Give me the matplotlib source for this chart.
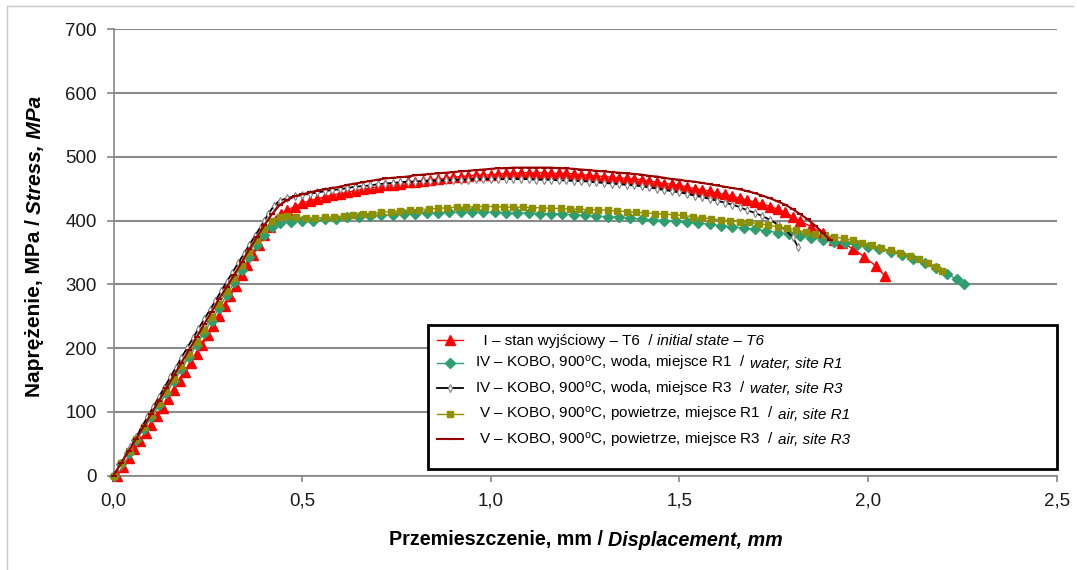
import matplotlib
matplotlib.use('Agg')
import matplotlib.pyplot as plt
from matplotlib.patches import Rectangle
from matplotlib.lines import Line2D

# stress-displacement curves (mm, MPa)
red_x = [0.010, 0.025, 0.040, 0.055, 0.070, 0.085, 0.100, 0.115, 0.130, 0.145,
         0.160, 0.175, 0.190, 0.205, 0.220, 0.235, 0.250, 0.265, 0.280, 0.295,
         0.310, 0.325, 0.340, 0.355, 0.370, 0.385, 0.400, 0.415, 0.430, 0.445,
         0.460, 0.48, 0.50, 0.52, 0.54, 0.56, 0.58, 0.60, 0.62, 0.64,
         0.66, 0.68, 0.70, 0.72, 0.74, 0.76, 0.78, 0.80, 0.82, 0.84,
         0.86, 0.88, 0.90, 0.92, 0.94, 0.96, 0.98, 1.00, 1.02, 1.04,
         1.06, 1.08, 1.10, 1.12, 1.14, 1.16, 1.18, 1.20, 1.22, 1.24,
         1.26, 1.28, 1.30, 1.32, 1.34, 1.36, 1.38, 1.40, 1.42, 1.44,
         1.46, 1.48, 1.50, 1.52, 1.54, 1.56, 1.58, 1.60, 1.62, 1.64,
         1.66, 1.68, 1.70, 1.72, 1.74, 1.76, 1.78, 1.80, 1.82, 1.85,
         1.88, 1.91, 1.93, 1.96, 1.99, 2.02, 2.045]
red_y = [0, 14, 27, 41, 54, 67, 80, 93, 106, 120,
         134, 148, 162, 176, 190, 205, 220, 235, 251, 266,
         282, 298, 314, 330, 346, 362, 377, 390, 401, 410,
         416, 422, 427, 431, 434, 437, 440, 442, 444, 447,
         449, 451, 453, 455, 456, 458, 460, 461, 462, 464,
         465, 466, 468, 469, 470, 471, 471, 472, 473, 474,
         474, 475, 475, 475, 475, 474, 474, 474, 473, 472,
         471, 470, 469, 468, 467, 466, 465, 464, 462, 460,
         458, 457, 455, 453, 450, 448, 446, 443, 441, 438,
         435, 432, 429, 426, 422, 418, 413, 406, 399, 390,
         380, 369, 365, 356, 343, 329, 313]

green_x = [0.000, 0.020, 0.040, 0.060, 0.080, 0.100, 0.120, 0.140, 0.160, 0.180,
           0.200, 0.220, 0.240, 0.260, 0.280, 0.300, 0.320, 0.340, 0.360, 0.380,
           0.400, 0.420, 0.440, 0.47, 0.50, 0.53, 0.56, 0.59, 0.62, 0.65,
           0.68, 0.71, 0.74, 0.77, 0.80, 0.83, 0.86, 0.89, 0.92, 0.95,
           0.98, 1.01, 1.04, 1.07, 1.10, 1.13, 1.16, 1.19, 1.22, 1.25,
           1.28, 1.31, 1.34, 1.37, 1.40, 1.43, 1.46, 1.49, 1.52, 1.55,
           1.58, 1.61, 1.64, 1.67, 1.70, 1.73, 1.76, 1.79, 1.82, 1.85,
           1.88, 1.91, 1.94, 1.97, 2.00, 2.03, 2.06, 2.09, 2.12, 2.15,
           2.18, 2.21, 2.235, 2.255]
green_y = [0, 18, 36, 55, 73, 91, 110, 129, 148, 167,
           186, 205, 224, 243, 263, 283, 303, 323, 343, 362,
           378, 390, 396, 398, 399, 400, 402, 403, 405, 406,
           407, 408, 409, 410, 411, 412, 412, 413, 413, 413,
           413, 413, 412, 412, 412, 411, 411, 410, 409, 408,
           407, 406, 405, 404, 402, 401, 400, 399, 397, 396,
           394, 392, 390, 388, 386, 384, 381, 379, 376, 373,
           370, 367, 364, 361, 358, 355, 351, 346, 340, 334,
           326, 316, 308, 300]

black_x = [0.000, 0.015, 0.030, 0.045, 0.060, 0.075, 0.090, 0.105, 0.120, 0.135,
           0.150, 0.165, 0.180, 0.195, 0.210, 0.225, 0.240, 0.255, 0.270, 0.285,
           0.300, 0.315, 0.330, 0.345, 0.360, 0.375, 0.390, 0.400, 0.410, 0.425,
           0.44, 0.46, 0.48, 0.50, 0.52, 0.54, 0.56, 0.58, 0.60, 0.62,
           0.64, 0.66, 0.68, 0.70, 0.72, 0.74, 0.76, 0.78, 0.80, 0.82,
           0.84, 0.86, 0.88, 0.90, 0.92, 0.94, 0.96, 0.98, 1.00, 1.02,
           1.04, 1.06, 1.08, 1.10, 1.12, 1.14, 1.16, 1.18, 1.20, 1.22,
           1.24, 1.26, 1.28, 1.30, 1.32, 1.34, 1.36, 1.38, 1.40, 1.42,
           1.44, 1.46, 1.48, 1.50, 1.52, 1.54, 1.56, 1.58, 1.60, 1.62,
           1.64, 1.66, 1.68, 1.70, 1.72, 1.74, 1.76, 1.78, 1.80, 1.815]
black_y = [0, 14, 29, 44, 60, 76, 92, 107, 123, 138,
           154, 169, 185, 200, 215, 230, 245, 259, 274, 289,
           304, 318, 333, 347, 362, 376, 390, 400, 410, 423,
           431, 435, 438, 440, 442, 444, 446, 448, 449, 451,
           453, 454, 455, 457, 458, 459, 460, 461, 461, 462,
           462, 463, 463, 464, 464, 464, 465, 465, 465, 465,
           465, 465, 465, 465, 464, 464, 464, 463, 463, 462,
           462, 461, 460, 459, 458, 457, 456, 455, 454, 452,
           450, 448, 446, 444, 442, 439, 437, 434, 431, 428,
           425, 421, 416, 412, 407, 401, 394, 386, 374, 358]

olive_x = [0.000, 0.020, 0.040, 0.060, 0.080, 0.100, 0.120, 0.140, 0.160, 0.180,
           0.200, 0.220, 0.240, 0.260, 0.280, 0.300, 0.320, 0.340, 0.360, 0.380,
           0.400, 0.420, 0.440, 0.460, 0.485, 0.51, 0.535, 0.56, 0.585, 0.61,
           0.635, 0.66, 0.685, 0.71, 0.735, 0.76, 0.785, 0.81, 0.835, 0.86,
           0.885, 0.91, 0.935, 0.96, 0.985, 1.01, 1.035, 1.06, 1.085, 1.11,
           1.135, 1.16, 1.185, 1.21, 1.235, 1.26, 1.285, 1.31, 1.335, 1.36,
           1.385, 1.41, 1.435, 1.46, 1.485, 1.51, 1.535, 1.56, 1.585, 1.61,
           1.635, 1.66, 1.685, 1.71, 1.735, 1.76, 1.785, 1.81, 1.835, 1.86,
           1.885, 1.91, 1.935, 1.96, 1.985, 2.01, 2.035, 2.06, 2.085, 2.11,
           2.135, 2.16, 2.18, 2.195]
olive_y = [0, 19, 38, 57, 76, 95, 114, 133, 152, 171,
           190, 209, 229, 249, 269, 290, 310, 330, 350, 370,
           387, 399, 405, 407, 405, 404, 404, 405, 406, 407,
           408, 410, 411, 413, 414, 415, 416, 417, 418, 419,
           420, 421, 421, 422, 422, 422, 421, 421, 421, 420,
           420, 419, 419, 418, 418, 417, 417, 416, 415, 414,
           413, 412, 411, 410, 409, 408, 406, 404, 403, 401,
           400, 398, 397, 395, 393, 390, 388, 385, 382, 379,
           377, 374, 372, 369, 365, 361, 357, 353, 349, 345,
           340, 333, 327, 321]

brown_x = [0.000, 0.020, 0.040, 0.060, 0.080, 0.100, 0.120, 0.140, 0.160, 0.180,
           0.200, 0.220, 0.240, 0.260, 0.280, 0.300, 0.320, 0.340, 0.360, 0.380,
           0.400, 0.420, 0.440, 0.460, 0.480, 0.50, 0.52, 0.54, 0.56, 0.58,
           0.60, 0.62, 0.64, 0.66, 0.68, 0.70, 0.72, 0.74, 0.76, 0.78,
           0.80, 0.82, 0.84, 0.86, 0.88, 0.90, 0.92, 0.94, 0.96, 0.98,
           1.00, 1.02, 1.04, 1.06, 1.08, 1.10, 1.12, 1.14, 1.16, 1.18,
           1.20, 1.22, 1.24, 1.26, 1.28, 1.30, 1.32, 1.34, 1.36, 1.38,
           1.40, 1.42, 1.44, 1.46, 1.48, 1.50, 1.52, 1.54, 1.56, 1.58,
           1.60, 1.62, 1.64, 1.66, 1.68, 1.70, 1.72, 1.74, 1.76, 1.78,
           1.80, 1.82, 1.84, 1.86, 1.88, 1.90]
brown_y = [0, 19, 38, 58, 77, 97, 117, 137, 157, 177,
           197, 217, 237, 257, 277, 296, 315, 335, 355, 374,
           393, 410, 424, 432, 438, 441, 444, 447, 449, 451,
           453, 456, 458, 460, 462, 464, 466, 467, 468, 469,
           471, 472, 473, 474, 475, 476, 477, 478, 479, 480,
           481, 482, 482, 483, 483, 483, 483, 483, 483, 482,
           482, 481, 480, 479, 478, 477, 476, 475, 474, 473,
           472, 470, 469, 467, 465, 464, 462, 461, 459, 457,
           455, 453, 451, 449, 446, 443, 439, 435, 430, 425,
           418, 410, 402, 392, 381, 369]

xticks = [0.0, 0.5, 1.0, 1.5, 2.0, 2.5]
xtick_labels = ['0,0', '0,5', '1,0', '1,5', '2,0', '2,5']
yticks = [0, 100, 200, 300, 400, 500, 600, 700]

labels_pl = ['  I – stan wyjściowy – T6  /',
             'IV – KOBO, 900$^{\\mathrm{o}}$C, woda, miejsce R1  /',
             'IV – KOBO, 900$^{\\mathrm{o}}$C, woda, miejsce R3  /',
             ' V – KOBO, 900$^{\\mathrm{o}}$C, powietrze, miejsce R1  /',
             ' V – KOBO, 900$^{\\mathrm{o}}$C, powietrze, miejsce R3  /']
labels_en = ['initial state – T6', 'water, site R1', 'water, site R3',
             'air, site R1', 'air, site R3']

SANS = ['Liberation Sans', 'DejaVu Sans']
plt.rcParams['font.family'] = SANS
plt.rcParams['mathtext.fontset'] = 'custom'
plt.rcParams['mathtext.rm'] = 'Liberation Sans'
plt.rcParams['mathtext.it'] = 'Liberation Sans:italic'

W, H = 1077, 570
LEG_FS = 11

fig = plt.figure(figsize=(W / 100, H / 100), dpi=100)
ax = fig.add_axes([113.5 / W, 1 - 475.5 / H, (1056.7 - 113.5) / W, (475.5 - 29.3) / H])

# light frame of the chart area (top and left edges visible)
fig.add_artist(Line2D([7 / W, 7 / W], [0, 1 - 6 / H], color='#c8c8c8', lw=1))
fig.add_artist(Line2D([7 / W, 1073 / W], [1 - 6 / H, 1 - 6 / H], color='#c8c8c8', lw=1))

l1, = ax.plot(red_x, red_y, color='#ff0000', lw=1, marker='^', ms=6.5, clip_on=False, zorder=3)
l2, = ax.plot(green_x, green_y, color='#2f9e6f', lw=1, marker='D', ms=4.8, clip_on=False, zorder=3)
l3, = ax.plot(black_x, black_y, color='black', lw=1.3, marker='d', ms=4, mfc='white',
              mec='#808080', mew=0.8, clip_on=False, zorder=3)
l4, = ax.plot(olive_x, olive_y, color='#8f8f00', lw=1, marker='s', ms=4.2, clip_on=False, zorder=3)
l5, = ax.plot(brown_x, brown_y, color='#990000', lw=1.5, marker='_', ms=5, mew=1.5,
              clip_on=False, zorder=3)

ax.set_xlim(0, 2.5)
ax.set_ylim(0, 700)
ax.set_xticks(xticks)
ax.set_xticklabels(xtick_labels)
ax.set_yticks(yticks)
for s in ['top', 'right']:
    ax.spines[s].set_visible(False)
for s in ['left', 'bottom']:
    ax.spines[s].set_color('#868686')
    ax.spines[s].set_linewidth(1.2)
ax.yaxis.grid(True, color='#8a8a8a', lw=1.5)
ax.set_axisbelow(True)
ax.tick_params(axis='y', direction='out', length=5, width=1.2, color='#868686',
               labelsize=13.5, pad=7, labelcolor='#1a1a1a')
ax.tick_params(axis='x', direction='out', length=4, width=1.2, color='#868686',
               labelsize=13.5, pad=8, labelcolor='#1a1a1a')

# legend box
box = Rectangle((0.3334, 0.0146), 1 - 0.3334, 0.3373 - 0.0146, transform=ax.transAxes,
                fc='white', ec='black', lw=2, clip_on=False, zorder=4)
ax.add_patch(box)
leg = ax.legend([l1, l2, l3, l4, l5], labels_pl, loc='upper left',
                bbox_to_anchor=(0.343, 0.317), frameon=False, borderpad=0, borderaxespad=0,
                handlelength=1.7, handletextpad=0.8, labelspacing=0.42, numpoints=1,
                prop={'family': SANS, 'size': LEG_FS})
leg.set_zorder(5)

# axis labels, bold + bold italic parts
xl1 = fig.text(0.5, 1 - 540 / H, 'Przemieszczenie, mm /', fontweight='bold',
               fontsize=14.2, ha='left', va='center')
xl2 = fig.text(0.5, 1 - 540 / H, 'Displacement, mm', fontweight='bold',
               fontstyle='italic', fontsize=14.2, ha='left', va='center')
yl1 = fig.text(35 / W, 0.5, 'Naprężenie, MPa /', fontweight='bold',
               fontsize=15, rotation=90, ha='center', va='bottom')
yl2 = fig.text(35 / W, 0.5, 'Stress, MPa', fontweight='bold',
               fontstyle='italic', fontsize=15, rotation=90, ha='center', va='bottom')

fig.canvas.draw()
gap = 5
w1 = xl1.get_window_extent().width
w2 = xl2.get_window_extent().width
x0 = 586 - (w1 + gap + w2) / 2
xl1.set_x(x0 / W)
xl2.set_x((x0 + w1 + gap) / W)
h1 = yl1.get_window_extent().height
h2 = yl2.get_window_extent().height
y0 = (H - 246) - (h1 + gap + h2) / 2
yl1.set_y(y0 / H)
yl2.set_y((y0 + h1 + gap) / H)

# italic english part of each legend entry, on the same baseline
for t, en in zip(leg.get_texts(), labels_en):
    bb = t.get_window_extent()
    base = t.get_transform().transform(t.get_position())[1]
    ax.annotate(en, xy=(bb.x1 + 4, base), xycoords='figure pixels',
                ha='left', va='baseline', fontstyle='italic',
                fontsize=LEG_FS, zorder=6, annotation_clip=False)

fig.savefig('out.png', dpi=100)
